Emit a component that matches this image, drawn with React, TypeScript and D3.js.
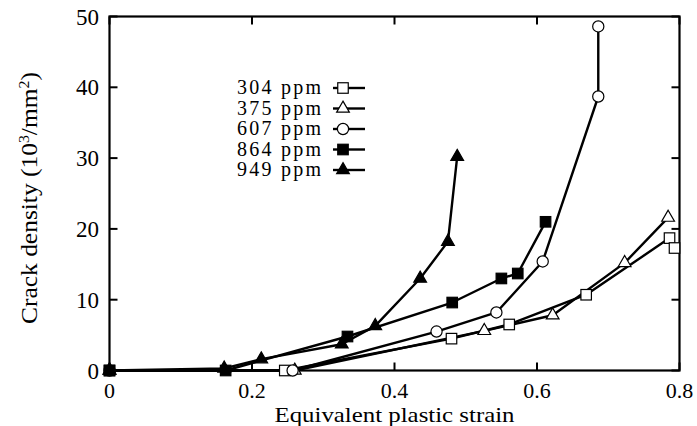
import React from 'react';
import * as d3 from 'd3';

type Pt = [number, number];

const seriesNames = ['304 ppm', '375 ppm', '607 ppm', '864 ppm', '949 ppm'];
const markerKinds = ['square', 'triangle', 'circle', 'square', 'triangle'];
const markerFilled = [false, false, false, true, true];

const s304: Pt[] = [[0, 0], [0.246, 0], [0.48, 4.5], [0.561, 6.5], [0.669, 10.7], [0.786, 18.7], [0.793, 17.3]];
const s375: Pt[] = [[0, 0], [0.26, 0], [0.526, 5.6], [0.622, 7.8], [0.723, 15.2], [0.784, 21.6]];
const s607: Pt[] = [[0, 0], [0.257, 0], [0.459, 5.5], [0.543, 8.2], [0.608, 15.4], [0.686, 38.7], [0.686, 48.6]];
const s864: Pt[] = [[0, 0], [0.163, 0], [0.334, 4.8], [0.481, 9.6], [0.55, 13.0], [0.573, 13.7], [0.612, 21.0]];
const s949: Pt[] = [[0, 0], [0.161, 0.3], [0.213, 1.6], [0.326, 3.7], [0.373, 6.3], [0.436, 13.0], [0.475, 18.2], [0.488, 30.2]];
const allSeries = [s304, s375, s607, s864, s949];

const xTicks = [0, 0.2, 0.4, 0.6, 0.8];
const yTicks = [0, 10, 20, 30, 40, 50];

const W = 697;
const H = 426;
const left = 109.5;
const right = 679.5;
const top = 16.5;
const bottom = 370.5;
const font = 'Liberation Serif, DejaVu Serif, serif';

const Marker: React.FC<{ kind: string; filled: boolean; cx: number; cy: number }> = ({ kind, filled, cx, cy }) => {
  const fill = filled ? '#000' : '#fff';
  if (kind === 'square') {
    const s = 10.5;
    return <rect x={cx - s / 2} y={cy - s / 2} width={s} height={s} fill={fill} stroke="#000" strokeWidth={1.2} />;
  }
  if (kind === 'circle') {
    return <circle cx={cx} cy={cy} r={5.6} fill={fill} stroke="#000" strokeWidth={1.2} />;
  }
  const sym = d3.symbol().type(d3.symbolTriangle).size(70)();
  return <path d={sym || ''} transform={`translate(${cx},${cy})`} fill={fill} stroke="#000" strokeWidth={1.2} />;
};

export default function App() {
  const x = d3.scaleLinear().domain([0, 0.8]).range([left, right]);
  const y = d3.scaleLinear().domain([0, 50]).range([bottom, top]);
  const line = d3.line<Pt>().x((d) => x(d[0])).y((d) => y(d[1]));
  const tick = 8;

  const legendX = 237;
  const legendY0 = 94;
  const legendDy = 20.5;

  return (
    <svg width={W} height={H} style={{ position: 'absolute', left: 0, top: 0, background: '#fff' }}>
      <rect x={0} y={0} width={W} height={H} fill="#fff" />

      {allSeries.map((s, i) => (
        <path key={`l${i}`} d={line(s) || ''} fill="none" stroke="#000" strokeWidth={2.4} strokeLinejoin="round" />
      ))}

      {/* frame */}
      <rect x={left} y={top} width={right - left} height={bottom - top} fill="none" stroke="#000" strokeWidth={2.2} />

      {xTicks.map((t) => (
        <g key={`xt${t}`}>
          <line x1={x(t)} x2={x(t)} y1={bottom} y2={bottom - tick} stroke="#000" strokeWidth={2} />
          <line x1={x(t)} x2={x(t)} y1={top} y2={top + tick} stroke="#000" strokeWidth={2} />
          <text x={x(t)} y={398} textAnchor="middle" fontFamily={font} fontSize={22}>{String(t)}</text>
        </g>
      ))}
      {yTicks.map((t) => (
        <g key={`yt${t}`}>
          <line x1={left} x2={left + tick} y1={y(t)} y2={y(t)} stroke="#000" strokeWidth={2} />
          <line x1={right} x2={right - tick} y1={y(t)} y2={y(t)} stroke="#000" strokeWidth={2} />
          <text x={99} y={y(t) + 8} textAnchor="end" fontFamily={font} fontSize={23}>{t}</text>
        </g>
      ))}

      {allSeries.map((s, i) =>
        s.map((d, j) => (
          <Marker key={`m${i}-${j}`} kind={markerKinds[i]} filled={markerFilled[i]} cx={x(d[0])} cy={y(d[1])} />
        ))
      )}

      {/* legend */}
      {seriesNames.map((n, i) => {
        const cy = legendY0 + i * legendDy;
        return (
          <g key={`lg${i}`}>
            <text x={legendX} y={cy} fontFamily={font} fontSize={20} textLength={84} lengthAdjust="spacing">{n}</text>
            <line x1={333} x2={365} y1={cy - 6} y2={cy - 6} stroke="#000" strokeWidth={2.4} />
            <Marker kind={markerKinds[i]} filled={markerFilled[i]} cx={343} cy={cy - 6} />
          </g>
        );
      })}

      <text x={x(0.4)} y={422} textAnchor="middle" fontFamily={font} fontSize={21} textLength={240} lengthAdjust="spacingAndGlyphs">
        Equivalent plastic strain
      </text>
      <text transform="translate(37,198) rotate(-90)" textAnchor="middle" fontFamily={font} fontSize={24} textLength={252} lengthAdjust="spacingAndGlyphs">
        Crack density (10<tspan baselineShift="super" fontSize={15}>3</tspan>/mm<tspan baselineShift="super" fontSize={15}>2</tspan>)
      </text>
    </svg>
  );
}
